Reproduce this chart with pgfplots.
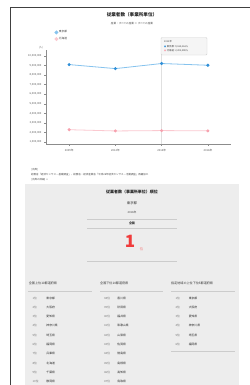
\documentclass[border=0pt]{standalone}
\usepackage{fontspec}
\setmainfont{Noto Sans CJK JP}
\newfontfamily\dejavu{DejaVu Sans}
\usepackage{pgfplots}
\pgfplotsset{compat=1.18}
\definecolor{tblue}{HTML}{2F8FD8}
\definecolor{tbluel}{HTML}{86C3EE}
\definecolor{tpink}{HTML}{F7A1AE}
\definecolor{tpinkl}{HTML}{FBC9D0}
\definecolor{panel}{HTML}{EDEDED}
\definecolor{tred}{HTML}{F03C3C}
\newcommand\fs[1]{\fontsize{#1}{#1}\selectfont}
\begin{document}
\begin{tikzpicture}
\path[use as bounding box] (0,0) rectangle (250bp,-385bp);
\fill[white] (0,0) rectangle (250bp,-385bp);
\begin{scope}[x=1bp,y=-1bp]
\draw[black!75,line width=1bp] (10,386) -- (10,7) -- (251,7);
\node[font=\fs{4.6}\bfseries,text=black!85,inner sep=0] at (132,15) {従業者数（事業所単位）};
\node[font=\fs{2.6},text=black!70,inner sep=0] at (132,24) {産業：すべての産業 ＞ すべての産業};
\node[font=\fs{2.6},text=black!60,inner sep=0] at (41,48) {(人)};
% source text
\node[font=\fs{2.5},text=black!70,inner sep=0,anchor=west] at (31,170) {[出典]};
\node[font=\fs{2.5},text=black!70,inner sep=0,anchor=west] at (31,174.5) {総務省「経済センサス－基礎調査」、総務省・経済産業省「平成28年経済センサス－活動調査」再編加工};
\node[font=\fs{2.5},text=black!70,inner sep=0,anchor=west] at (31,180) {[出典の詳細] ＋};
% panel
\fill[panel] (25,183.5) rectangle (238.5,386);
\node[font=\fs{4}\bfseries,text=black!85,inner sep=0] at (132,192.3) {従業者数（事業所単位）順位};
\node[font=\fs{3.4},text=black!80,inner sep=0] at (132,203) {東京都};
\node[font=\fs{2.8},text=black!70,inner sep=0] at (132,212.5) {2016年};
\draw[black!20,line width=0.5bp] (87,219) -- (177,219);
\node[font=\fs{3}\bfseries,text=black!80,inner sep=0] at (132,223.7) {全国};
\draw[black!20,line width=0.5bp] (87,228) -- (177,228);
\node[font=\fs{17}\bfseries,text=tred,inner sep=0] at (130,241.5) {1};
\node[font=\fs{3.4},text=tred!70,inner sep=0] at (141.5,249.5) {位};
\draw[black!20,line width=0.5bp] (87,261) -- (177,261);
% column headers
\node[font=\fs{3.1},text=black!80,inner sep=0,anchor=west] at (28.7,283.5) {全国上位10都道府県};
\node[font=\fs{3.1},text=black!80,inner sep=0,anchor=west] at (100,283.5) {全国下位10都道府県};
\node[font=\fs{3.1},text=black!80,inner sep=0,anchor=west] at (171,283.5) {指定地域の上位下位5都道府県};
\draw[black!20,line width=0.5bp] (28,291) -- (92,291);
\draw[black!20,line width=0.5bp] (100,291) -- (163,291);
\draw[black!20,line width=0.5bp] (171,291) -- (235,291);
\draw[black!20,line width=0.5bp] (171,351) -- (235,351);
\foreach \r/\n [count=\i] in {1位/東京都,2位/大阪府,3位/愛知県,4位/神奈川県,5位/埼玉県,6位/福岡県,7位/兵庫県,8位/北海道,9位/千葉県,10位/静岡県}{
  \node[font=\fs{2.8},text=black!55,inner sep=0,anchor=west] at (32.5,{298+(\i-1)*9.3}) {\r};
  \node[font=\fs{2.8},text=black!85,inner sep=0,anchor=west] at (46.3,{298+(\i-1)*9.3}) {\n};
}
\foreach \r/\n [count=\i] in {38位/香川県,39位/秋田県,40位/福井県,41位/和歌山県,42位/山梨県,43位/佐賀県,44位/徳島県,45位/島根県,46位/高知県,47位/鳥取県}{
  \node[font=\fs{2.8},text=black!55,inner sep=0,anchor=west] at (104,{298+(\i-1)*9.3}) {\r};
  \node[font=\fs{2.8},text=black!85,inner sep=0,anchor=west] at (117.3,{298+(\i-1)*9.3}) {\n};
}
\foreach \r/\n [count=\i] in {1位/東京都,2位/大阪府,3位/愛知県,4位/神奈川県,5位/埼玉県,6位/福岡県}{
  \node[font=\fs{2.8},text=black!55,inner sep=0,anchor=west] at (175.5,{298+(\i-1)*9.3}) {\r};
  \node[font=\fs{2.8},text=black!85,inner sep=0,anchor=west] at (188.7,{298+(\i-1)*9.3}) {\n};
}
\end{scope}
\begin{axis}[
  at={(46bp,-144bp)}, anchor=south west,
  scale only axis, width=185bp, height=94bp,
  xmin=-0.5, xmax=3.5, ymin=0.8e6, ymax=10.6e6,
  axis lines*=left,
  axis line style={draw=black!45,line width=0.5bp},
  tick align=outside, major tick length=1.5bp,
  tick style={draw=black!45,line width=0.4bp},
  xtick={0,1,2,3}, xticklabels={2009年,2012年,2014年,2016年},
  ytick={1000000,2000000,3000000,4000000,5000000,6000000,7000000,8000000,9000000,10000000},
  scaled y ticks=false,
  /pgf/number format/.cd, fixed, precision=0, 1000 sep={,}, assume math mode=true, /pgfplots/.cd,
  yticklabel style={font=\fs{2.7},text=black!65,xshift=0.5bp},
  xticklabel style={font=\fs{2.7},text=black!65},
  extra x ticks={2}, extra x tick labels={},
  extra x tick style={grid=major, major grid style={draw=black!12,line width=0.6bp}, major tick length=0pt},
  clip=false,
  legend style={at={(0.045,1.215)}, anchor=north west, draw=none, fill=none, font=\fs{2.7}, inner sep=0pt, row sep=1.6bp, nodes={inner sep=0.6bp,text=black!75}},
  legend cell align=left,
  legend image code/.code={\fill[#1] (1.4bp,0) circle (1.5bp);},
]
\addplot[color=tbluel, line width=0.8bp, mark=*, mark size=1.1bp, mark options={fill=tblue,draw=tblue}] coordinates {(0,9080000) (1,8660000) (2,9190000) (3,9010000)};
\addlegendentry{東京都}
\addplot[color=tpinkl, line width=0.8bp, mark=*, mark size=1.1bp, mark options={fill=tpink,draw=tpink}] coordinates {(0,2290000) (1,2160000) (2,2200000) (3,2170000)};
\addlegendentry{北海道}
\end{axis}
\begin{scope}[x=1bp,y=-1bp]
\draw[black!18,fill=black!4,line width=0.4bp,rounded corners=1bp] (161,37.5) rectangle (207,55);
\node[font=\fs{2.4},text=black!70,inner sep=0,anchor=west] at (164,41.5) {2014年};
\node[font=\fs{2.4},text=black!75,inner sep=0,anchor=west] at (164,46.3) {{\dejavu\textcolor{tblue}{●}} 東京都: 9,185,261人};
\node[font=\fs{2.4},text=black!75,inner sep=0,anchor=west] at (164,50.8) {{\dejavu\textcolor{tpink}{●}} 北海道: 2,204,590人};
\end{scope}
\end{tikzpicture}
\end{document}
